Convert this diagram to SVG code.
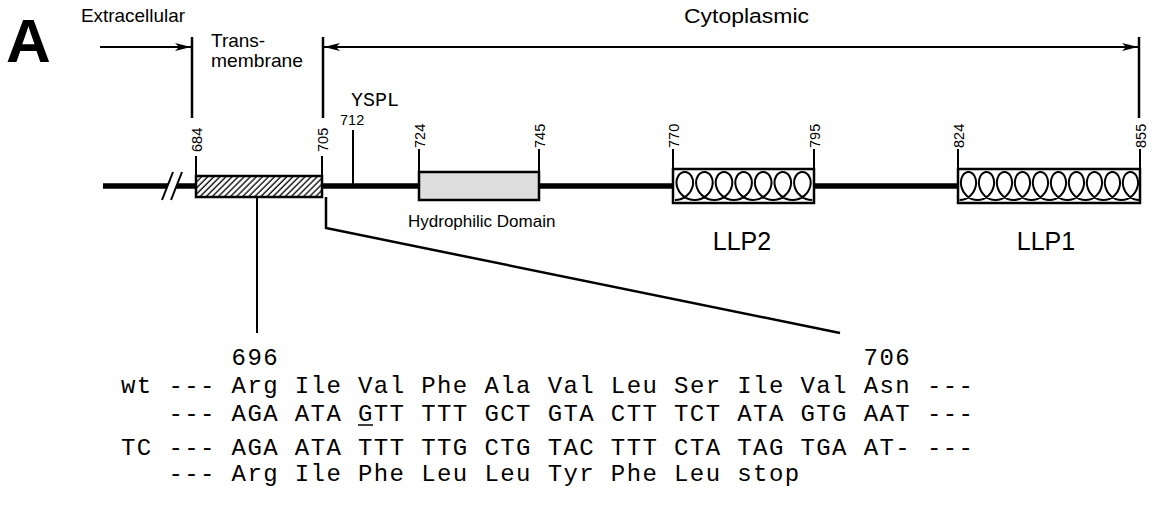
<svg xmlns="http://www.w3.org/2000/svg" width="1153" height="512" viewBox="0 0 1153 512">
<style>
.sans{font-family:"Liberation Sans",Arial,sans-serif;fill:#000}
.mono{font-family:"Liberation Mono","Courier New",monospace;fill:#000}
.seq{font-family:"Liberation Mono","Courier New",monospace;font-size:24px;letter-spacing:1.4px;fill:#000}
.num{font-family:"Liberation Sans",Arial,sans-serif;font-size:14.5px;fill:#000}
.tick{stroke:#000;stroke-width:2;fill:none}
.bound{stroke:#000;stroke-width:2.5;fill:none}
.box{stroke:#000;stroke-width:2.5}
.coil{stroke:#000;stroke-width:2;fill:none}
</style>
<defs>
<pattern id="hatch" patternUnits="userSpaceOnUse" width="4.3" height="10" patternTransform="rotate(45)">
<rect width="4.3" height="10" fill="#fff"/>
<line x1="1" y1="0" x2="1" y2="10" stroke="#000" stroke-width="1.3"/>
</pattern>
<marker id="ah" viewBox="0 0 16 8" refX="16" refY="4" markerWidth="16" markerHeight="8" markerUnits="userSpaceOnUse" orient="auto-start-reverse">
<path d="M0,0 L16,4 L0,8 L4,4 Z" fill="#000"/>
</marker>
</defs>
<rect width="1153" height="512" fill="#fff"/>

<text class="sans" x="6" y="62" font-size="62" font-weight="bold">A</text>

<g id="region-labels">
<text class="sans" x="81" y="22" font-size="18.5" textLength="104" lengthAdjust="spacingAndGlyphs">Extracellular</text>
<text class="sans" x="211" y="47" font-size="19">Trans-</text>
<text class="sans" x="211" y="67" font-size="19" textLength="92" lengthAdjust="spacingAndGlyphs">membrane</text>
<text class="sans" x="684" y="23" font-size="20.5" textLength="125" lengthAdjust="spacingAndGlyphs">Cytoplasmic</text>
</g>

<g id="connectors">
<line class="bound" x1="192" y1="37" x2="192" y2="118"/>
<line class="bound" x1="323" y1="37" x2="323" y2="118"/>
<line class="bound" x1="1139" y1="37" x2="1139" y2="118"/>
<line x1="100" y1="47" x2="191" y2="47" stroke="#000" stroke-width="2" marker-end="url(#ah)"/>
<line x1="324" y1="47" x2="1138" y2="47" stroke="#000" stroke-width="2" marker-start="url(#ah)" marker-end="url(#ah)"/>
<line x1="257" y1="197" x2="257" y2="333" stroke="#000" stroke-width="2"/>
<polyline points="326,197 326,228 840,333" stroke="#000" stroke-width="2.5" fill="none"/>
</g>

<g id="backbone">
<line x1="103" y1="186" x2="1141" y2="186" stroke="#000" stroke-width="5.5"/>
<polygon points="163,200 173,172 182,172 172,200" fill="#fff"/>
<line x1="162" y1="200" x2="173" y2="172" stroke="#000" stroke-width="2"/>
<line x1="171" y1="200" x2="182" y2="172" stroke="#000" stroke-width="2"/>
</g>

<g id="transmembrane">
<line class="tick" x1="196" y1="156" x2="196" y2="176"/>
<line class="tick" x1="322" y1="156" x2="322" y2="176"/>
<text class="num" transform="translate(201.5,152) rotate(-90)">684</text>
<text class="num" transform="translate(327.5,152) rotate(-90)">705</text>
<rect class="box" x="196" y="176" width="126" height="21" fill="url(#hatch)"/>
</g>

<g id="yspl">
<line class="tick" x1="353" y1="130" x2="353" y2="186"/>
<text class="mono" x="351" y="106" font-size="20">YSPL</text>
<text class="num" x="340" y="125">712</text>
</g>

<g id="hydrophilic">
<line class="tick" x1="419" y1="149" x2="419" y2="172"/>
<line class="tick" x1="539" y1="149" x2="539" y2="172"/>
<text class="num" transform="translate(424.5,148) rotate(-90)">724</text>
<text class="num" transform="translate(544.5,148) rotate(-90)">745</text>
<rect class="box" x="419" y="172" width="120" height="28" fill="#dedede"/>
<text class="sans" x="408" y="227" font-size="17">Hydrophilic Domain</text>
</g>

<g id="llp2">
<line class="tick" x1="673" y1="149" x2="673" y2="169"/>
<line class="tick" x1="814" y1="149" x2="814" y2="169"/>
<text class="num" transform="translate(678.5,148) rotate(-90)">770</text>
<text class="num" transform="translate(819.5,148) rotate(-90)">795</text>
<rect class="box" x="673" y="169" width="141" height="34" fill="#fff"/>
<path class="coil" d="M675,200 c 8.75,0 15.98,-6.3 17.7,-14 c 1.72,-7.7 -2.58,-14 -7.9,-14 c -5.32,0 -9.62,6.3 -7.9,14 c 1.72,7.7 8.95,14 17.7,14 c 8.75,0 15.98,-6.3 17.7,-14 c 1.72,-7.7 -2.58,-14 -7.9,-14 c -5.32,0 -9.62,6.3 -7.9,14 c 1.72,7.7 8.95,14 17.7,14 c 8.75,0 15.98,-6.3 17.7,-14 c 1.72,-7.7 -2.58,-14 -7.9,-14 c -5.32,0 -9.62,6.3 -7.9,14 c 1.72,7.7 8.95,14 17.7,14 c 8.75,0 15.98,-6.3 17.7,-14 c 1.72,-7.7 -2.58,-14 -7.9,-14 c -5.32,0 -9.62,6.3 -7.9,14 c 1.72,7.7 8.95,14 17.7,14 c 8.75,0 15.98,-6.3 17.7,-14 c 1.72,-7.7 -2.58,-14 -7.9,-14 c -5.32,0 -9.62,6.3 -7.9,14 c 1.72,7.7 8.95,14 17.7,14 c 8.75,0 15.98,-6.3 17.7,-14 c 1.72,-7.7 -2.58,-14 -7.9,-14 c -5.32,0 -9.62,6.3 -7.9,14 c 1.72,7.7 8.95,14 17.7,14 c 8.75,0 15.98,-6.3 17.7,-14 c 1.72,-7.7 -2.58,-14 -7.9,-14 c -5.32,0 -9.62,6.3 -7.9,14 c 1.72,7.7 8.95,14 17.7,14"/>
<text class="sans" x="742" y="250" font-size="25" text-anchor="middle">LLP2</text>
</g>

<g id="llp1">
<line class="tick" x1="958" y1="149" x2="958" y2="169"/>
<line class="tick" x1="1140" y1="149" x2="1140" y2="169"/>
<text class="num" transform="translate(963.5,148) rotate(-90)">824</text>
<text class="num" transform="translate(1145.5,148) rotate(-90)">855</text>
<rect class="box" x="958" y="169" width="182" height="34" fill="#fff"/>
<path class="coil" vector-effect="non-scaling-stroke" transform="translate(959.5,0) scale(0.918,1)" d="M0,200 c 8.75,0 15.98,-6.3 17.7,-14 c 1.72,-7.7 -2.58,-14 -7.9,-14 c -5.32,0 -9.62,6.3 -7.9,14 c 1.72,7.7 8.95,14 17.7,14 c 8.75,0 15.98,-6.3 17.7,-14 c 1.72,-7.7 -2.58,-14 -7.9,-14 c -5.32,0 -9.62,6.3 -7.9,14 c 1.72,7.7 8.95,14 17.7,14 c 8.75,0 15.98,-6.3 17.7,-14 c 1.72,-7.7 -2.58,-14 -7.9,-14 c -5.32,0 -9.62,6.3 -7.9,14 c 1.72,7.7 8.95,14 17.7,14 c 8.75,0 15.98,-6.3 17.7,-14 c 1.72,-7.7 -2.58,-14 -7.9,-14 c -5.32,0 -9.62,6.3 -7.9,14 c 1.72,7.7 8.95,14 17.7,14 c 8.75,0 15.98,-6.3 17.7,-14 c 1.72,-7.7 -2.58,-14 -7.9,-14 c -5.32,0 -9.62,6.3 -7.9,14 c 1.72,7.7 8.95,14 17.7,14 c 8.75,0 15.98,-6.3 17.7,-14 c 1.72,-7.7 -2.58,-14 -7.9,-14 c -5.32,0 -9.62,6.3 -7.9,14 c 1.72,7.7 8.95,14 17.7,14 c 8.75,0 15.98,-6.3 17.7,-14 c 1.72,-7.7 -2.58,-14 -7.9,-14 c -5.32,0 -9.62,6.3 -7.9,14 c 1.72,7.7 8.95,14 17.7,14 c 8.75,0 15.98,-6.3 17.7,-14 c 1.72,-7.7 -2.58,-14 -7.9,-14 c -5.32,0 -9.62,6.3 -7.9,14 c 1.72,7.7 8.95,14 17.7,14 c 8.75,0 15.98,-6.3 17.7,-14 c 1.72,-7.7 -2.58,-14 -7.9,-14 c -5.32,0 -9.62,6.3 -7.9,14 c 1.72,7.7 8.95,14 17.7,14 c 8.75,0 15.98,-6.3 17.7,-14 c 1.72,-7.7 -2.58,-14 -7.9,-14 c -5.32,0 -9.62,6.3 -7.9,14 c 1.72,7.7 8.95,14 17.7,14"/>
<text class="sans" x="1046" y="250" font-size="25" text-anchor="middle">LLP1</text>
</g>

<g id="sequence">
<text class="seq" x="231.6" y="365">696</text>
<text class="seq" x="863.6" y="365">706</text>
<text class="seq" x="121" y="393" xml:space="preserve">wt --- Arg Ile Val Phe Ala Val Leu Ser Ile Val Asn ---</text>
<text class="seq" x="168.4" y="421" xml:space="preserve">--- AGA ATA GTT TTT GCT GTA CTT TCT ATA GTG AAT ---</text>
<line x1="358" y1="425" x2="373" y2="425" stroke="#000" stroke-width="1.5"/>
<text class="seq" x="121" y="455" xml:space="preserve">TC --- AGA ATA TTT TTG CTG TAC TTT CTA TAG TGA AT- ---</text>
<text class="seq" x="168.4" y="481" xml:space="preserve">--- Arg Ile Phe Leu Leu Tyr Phe Leu stop</text>
</g>
</svg>
